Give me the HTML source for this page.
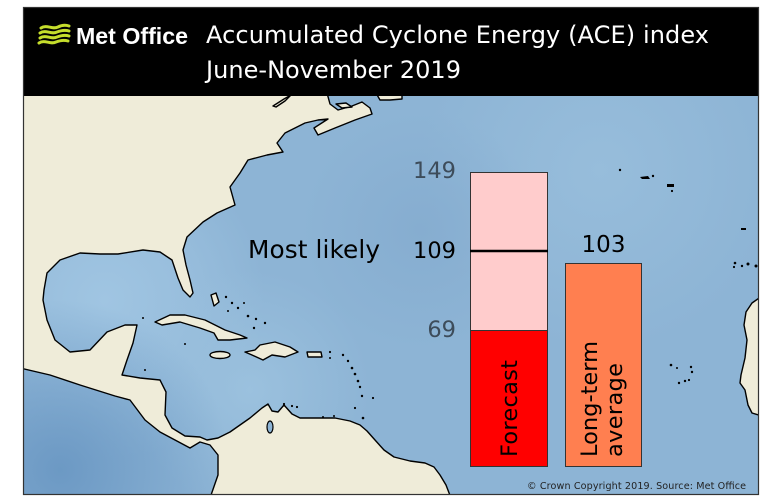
<!DOCTYPE html>
<html>
<head>
<meta charset="utf-8">
<style>
  html,body{margin:0;padding:0;background:#ffffff;}
  svg{display:block;}
  text{font-family:"DejaVu Sans","Liberation Sans",sans-serif;}
</style>
</head>
<body>
<svg width="768" height="503" viewBox="0 0 768 503" xmlns="http://www.w3.org/2000/svg">
  <defs>
    <radialGradient id="gulf" cx="105" cy="300" r="160" gradientUnits="userSpaceOnUse">
      <stop offset="0" stop-color="#a0c5e2"/>
      <stop offset="0.5" stop-color="#a0c5e2" stop-opacity="0.6"/>
      <stop offset="1" stop-color="#a0c5e2" stop-opacity="0"/>
    </radialGradient>
    <radialGradient id="carib" cx="250" cy="390" r="120" gradientUnits="userSpaceOnUse">
      <stop offset="0" stop-color="#9bc1de"/>
      <stop offset="1" stop-color="#9bc1de" stop-opacity="0"/>
    </radialGradient>
    <radialGradient id="pac" cx="60" cy="470" r="170" gradientUnits="userSpaceOnUse">
      <stop offset="0" stop-color="#6c99c4"/>
      <stop offset="1" stop-color="#6c99c4" stop-opacity="0"/>
    </radialGradient>
    <radialGradient id="ridge" cx="600" cy="170" r="180" gradientUnits="userSpaceOnUse">
      <stop offset="0" stop-color="#97bddb"/>
      <stop offset="1" stop-color="#97bddb" stop-opacity="0"/>
    </radialGradient>
    <radialGradient id="deep" cx="420" cy="230" r="120" gradientUnits="userSpaceOnUse">
      <stop offset="0" stop-color="#86add0"/>
      <stop offset="1" stop-color="#86add0" stop-opacity="0"/>
    </radialGradient>
    <clipPath id="mapclip"><rect x="23" y="96" width="736" height="399"/></clipPath>
  </defs>

  <!-- Ocean -->
  <g clip-path="url(#mapclip)">
    <rect x="23" y="96" width="736" height="399" fill="#8db4d5"/>
    <rect x="23" y="96" width="736" height="399" fill="url(#ridge)"/>
    <rect x="23" y="96" width="736" height="399" fill="url(#deep)"/>
    <rect x="23" y="96" width="736" height="399" fill="url(#gulf)"/>
    <rect x="23" y="96" width="736" height="399" fill="url(#carib)"/>
    <rect x="23" y="96" width="736" height="399" fill="url(#pac)"/>

    <g fill="#efecd9" stroke="#000" stroke-width="1.4" stroke-linejoin="round">
      <!-- Americas -->
      <path d="M20,93 L327,93 L330,104 L338,110 L352,106 L362,102 L370,108 L372,114 L355,120 L335,128 L318,135 L314,128 L328,119 L318,120 L305,123 L285,133 L277,143 L283,152 L267,155 L248,160 L240,173 L230,187 L235,205 L217,213 L203,222 L187,237 L183,250 L186,265 L190,280 L193,293 L190,297 L183,290 L178,278 L172,260 L160,252 L143,250 L118,254 L100,254 L80,253 L60,260 L47,273 L44,290 L43,300 L47,320 L55,340 L70,352 L90,350 L107,332 L125,325 L137,325 L133,343 L127,360 L122,375 L140,378 L160,380 L166,392 L165,415 L172,428 L185,436 L200,437 L207,440 L218,438 L230,432 L240,425 L250,418 L262,408 L268,404 L272,411 L278,412 L284,405 L292,414 L300,418 L320,418 L335,418 L350,421 L360,425 L367,431 L375,440 L384,450 L394,457 L410,461 L425,463 L434,467 L440,475 L446,485 L451,498 L210,498 L218,475 L218,455 L210,445 L200,442 L190,448 L175,440 L160,432 L145,420 L130,400 L115,396 L80,385 L50,375 L20,368 Z"/>
      <!-- Africa -->
      <path d="M762,296 L752,303 L746,312 L744,325 L747,340 L745,358 L741,375 L740,383 L745,390 L748,405 L752,413 L762,416 Z"/>
      <!-- top right land -->
      <path d="M376,93 L402,93 L402,99 L390,100 L380,100 Z"/>
      <!-- sliver -->
      <path d="M273,106 L284,99 L291,95 L285,101 L276,107 Z"/>
      <!-- PEI -->
      <path d="M336,104 L346,103 L352,107 L342,108 Z"/>
      <!-- Cuba -->
      <path d="M155,322 L170,315 L185,315 L205,320 L225,330 L240,335 L247,338 L230,340 L218,340 L214,333 L200,328 L180,322 L162,325 Z"/>
      <!-- Hispaniola -->
      <path d="M245,352 L255,350 L260,345 L275,342 L290,347 L298,352 L285,357 L272,355 L263,360 L252,355 Z"/>
      <!-- Jamaica -->
      <ellipse cx="220" cy="355" rx="10" ry="3.5"/>
      <!-- Puerto Rico -->
      <path d="M307,352 L321,352 L322,357 L308,357 Z"/>
      <!-- Andros / Bahamas -->
      <path d="M211,295 L216,293 L219,302 L214,306 Z"/>
    </g>
    <!-- Lake Maracaibo -->
    <ellipse cx="270" cy="427" rx="3" ry="6" fill="#8db4d5" stroke="#000" stroke-width="1.2"/>

    <!-- small islands (dots) -->
    <g fill="#000">
      <circle cx="226" cy="297" r="1.2"/><circle cx="232" cy="303" r="1.2"/><circle cx="238" cy="308" r="1.2"/>
      <circle cx="244" cy="303" r="1"/><circle cx="248" cy="316" r="1.3"/><circle cx="256" cy="319" r="1.2"/>
      <circle cx="265" cy="323" r="1.2"/><circle cx="254" cy="328" r="1.2"/><circle cx="228" cy="311" r="1"/>
      <circle cx="185" cy="344" r="1"/><circle cx="330" cy="352" r="1.1"/><circle cx="330" cy="358" r="1"/>
      <circle cx="343" cy="355" r="1.2"/><circle cx="348" cy="361" r="1.2"/><circle cx="352" cy="368" r="1.3"/>
      <circle cx="355" cy="374" r="1.3"/><circle cx="358" cy="381" r="1.3"/><circle cx="360" cy="387" r="1.2"/>
      <circle cx="362" cy="396" r="1.2"/><circle cx="355" cy="408" r="1.1"/><circle cx="373" cy="398" r="1.1"/>
      <circle cx="284" cy="404" r="1.1"/><circle cx="292" cy="406" r="1.1"/><circle cx="297" cy="407" r="1.1"/>
      <circle cx="323" cy="417" r="1"/><circle cx="334" cy="416" r="1"/><circle cx="363" cy="418" r="1.3"/>
      <circle cx="143" cy="318" r="1"/><circle cx="145" cy="370" r="1"/>
      <!-- Azores -->
      <circle cx="620" cy="170" r="1.2"/><path d="M640,177 L648,176 L650,179 L642,179 Z"/><circle cx="653" cy="176" r="1.2"/>
      <path d="M667,184 L674,184 L674,187 L667,187 Z"/><circle cx="672" cy="191" r="1.1"/>
      <!-- Madeira / Canaries -->
      <path d="M741,228 L746,228 L746,230 L741,230 Z"/>
      <circle cx="735" cy="263" r="1.3"/><circle cx="734" cy="267" r="1.1"/><circle cx="742" cy="266" r="1.2"/>
      <circle cx="748" cy="264" r="1.5"/><circle cx="756" cy="266" r="1.5"/>
      <!-- Cape Verde -->
      <circle cx="671" cy="365" r="1.3"/><circle cx="677" cy="368" r="1"/><circle cx="691" cy="367" r="1.2"/>
      <circle cx="692" cy="372" r="1.2"/><circle cx="679" cy="383" r="1.2"/><circle cx="685" cy="381" r="1.2"/>
      <circle cx="689" cy="380" r="1.1"/>
    </g>
  </g>

  <!-- Header -->
  <rect x="23" y="7" width="736" height="89" fill="#000"/>
  <!-- Frame -->
  <rect x="23.5" y="7.5" width="735" height="487" fill="none" stroke="#333" stroke-width="1.2"/>

  <!-- Logo waves -->
  <g fill="none" stroke="#c5dd2c" stroke-width="3" stroke-linecap="round">
    <path d="M41,28 C47,24 52,30 58,27 C62,25 66,25 69,26"/>
    <path d="M40,33 C46,29 51,35 57,32 C62,30 66,30 69,31"/>
    <path d="M40,38 C46,34 51,40 57,37 C62,35 66,35 69,36"/>
    <path d="M39,43 C45,39 50,45 56,42 C61,40 65,40 68,41"/>
  </g>
  <text x="76" y="44" fill="#fff" font-weight="bold" font-size="23.5" textLength="112" lengthAdjust="spacingAndGlyphs" style="font-family:'Liberation Sans',sans-serif">Met Office</text>

  <!-- Title -->
  <text x="206" y="43" fill="#fff" font-size="24" textLength="503" lengthAdjust="spacing">Accumulated Cyclone Energy (ACE) index</text>
  <text x="206" y="78" fill="#fff" font-size="24" textLength="255" lengthAdjust="spacing">June-November 2019</text>

  <!-- Bars -->
  <rect x="470.5" y="172.5" width="77" height="158" fill="#ffcccc" stroke="#333" stroke-width="1"/>
  <rect x="470.5" y="330.5" width="77" height="136" fill="#ff0000" stroke="#333" stroke-width="1"/>
  <line x1="470" y1="251" x2="548" y2="251" stroke="#000" stroke-width="2.6"/>
  <rect x="565.5" y="263.5" width="76" height="203" fill="#ff7f50" stroke="#333" stroke-width="1"/>

  <!-- Labels -->
  <text x="456" y="178" fill="#3d4c5a" font-size="22.5" text-anchor="end">149</text>
  <text x="456" y="258" fill="#000" font-size="22.5" text-anchor="end">109</text>
  <text x="456" y="337" fill="#3d4c5a" font-size="22.5" text-anchor="end">69</text>
  <text x="603.5" y="252" fill="#000" font-size="23" text-anchor="middle">103</text>
  <text x="248" y="258" fill="#000" font-size="24.8" textLength="132" lengthAdjust="spacing">Most likely</text>

  <text transform="translate(517,457) rotate(-90)" fill="#000" font-size="22.5" textLength="97" lengthAdjust="spacing">Forecast</text>
  <text transform="translate(597,457) rotate(-90)" fill="#000" font-size="22.5" textLength="116" lengthAdjust="spacing">Long-term</text>
  <text transform="translate(622,457) rotate(-90)" fill="#000" font-size="22.5" textLength="94" lengthAdjust="spacing">average</text>

  <!-- Copyright -->
  <text x="527" y="489" fill="#222" font-size="9.6" textLength="219" lengthAdjust="spacing">© Crown Copyright 2019. Source: Met Office</text>
</svg>
</body>
</html>
